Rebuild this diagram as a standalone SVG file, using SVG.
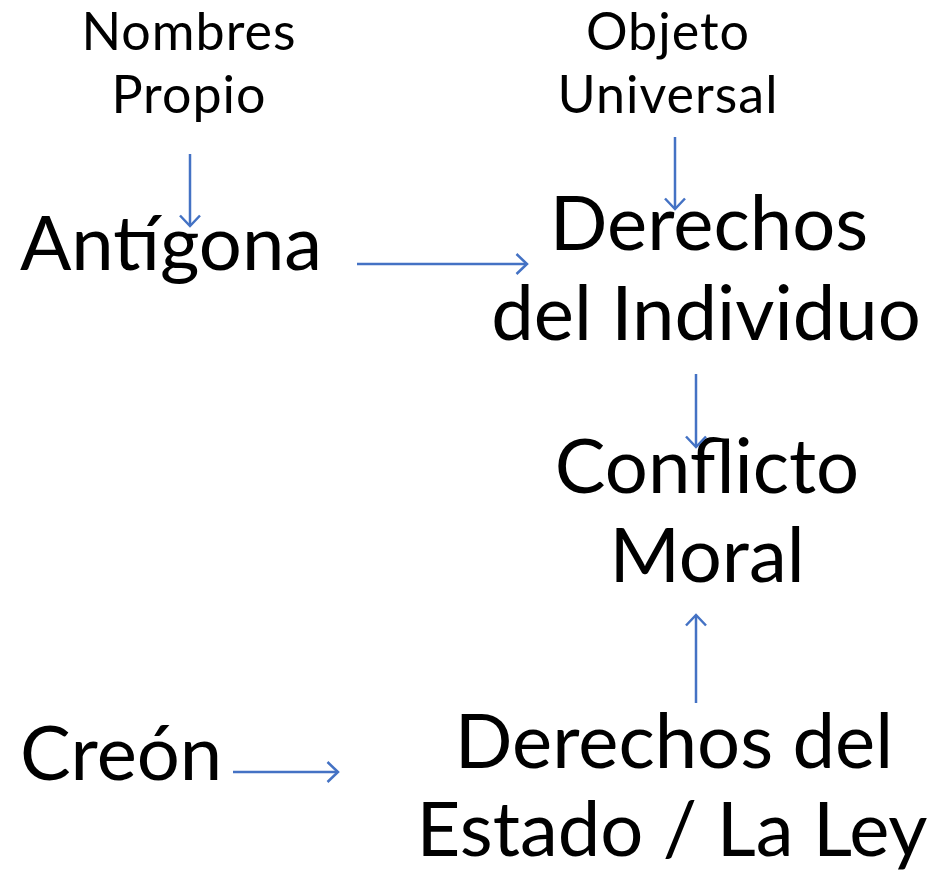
<svg xmlns="http://www.w3.org/2000/svg" width="947" height="871" viewBox="0 0 947 871">
<style>
text{font-family:Lato,"Noto Sans",sans-serif;fill:#000}
.s{font-size:52px;text-anchor:middle;letter-spacing:1px}
.b{font-size:76px}
.m{text-anchor:middle}
.c line{stroke:#4472C4;stroke-width:2.5;marker-end:url(#ah)}
</style>
<defs>
<marker id="ah" viewBox="0 0 14 22" refX="12" refY="11" markerWidth="14" markerHeight="22" markerUnits="userSpaceOnUse" orient="auto">
<path d="M1.5,1 L12,11 L1.5,21" fill="none" stroke="#4472C4" stroke-width="2.5"/>
</marker>
</defs>
<rect width="947" height="871" fill="#fff"/>
<g id="nombres"><text class="s" x="189" y="50">Nombres</text><text class="s" x="189" y="113">Propio</text></g>
<g id="objeto"><text class="s" x="668" y="50">Objeto</text><text class="s" x="668" y="113">Universal</text></g>
<g id="antigona"><text class="b" x="20" y="270">Antígona</text></g>
<g id="derechos-individuo"><text class="b m" x="709" y="250">Derechos</text><text class="b m" x="706" y="340">del Individuo</text></g>
<g id="conflicto"><text class="b m" x="707" y="493">Conflicto</text><text class="b m" x="707" y="582">Moral</text></g>
<g id="creon"><text class="b" x="20" y="780">Creón</text></g>
<g id="derechos-estado"><text class="b m" x="674" y="768">Derechos del</text><text class="b m" x="672" y="856">Estado / La Ley</text></g>
<g class="c" id="connectors">
<line x1="190" y1="154" x2="190" y2="226"/>
<line x1="675" y1="137" x2="675" y2="209"/>
<line x1="357" y1="264" x2="527" y2="264"/>
<line x1="696" y1="374" x2="696" y2="447"/>
<line x1="696" y1="703" x2="696" y2="615"/>
<line x1="233" y1="772" x2="338" y2="772"/>
</g>
</svg>
